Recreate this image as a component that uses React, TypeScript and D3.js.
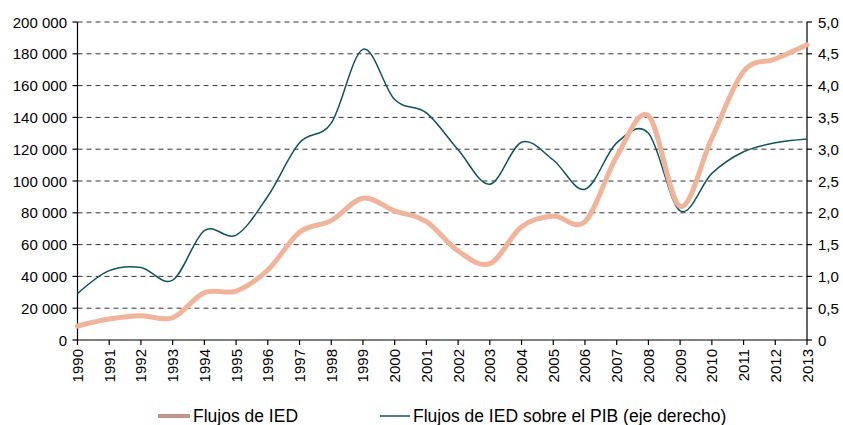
import React from "react";
import * as d3 from "d3";

const years = [
  "1990","1991","1992","1993","1994","1995","1996","1997","1998","1999","2000","2001",
  "2002","2003","2004","2005","2006","2007","2008","2009","2010","2011","2012","2013",
];
const flujosIED = [
  8800, 13200, 15300, 14000, 29800, 30800, 44000, 67800, 75100, 89200, 81200, 74500,
  56000, 48000, 71300, 78000, 74500, 115400, 141000, 84000, 127000, 169000, 176700, 185700,
];
const flujosPIB = [
  0.73, 1.09, 1.14, 0.94, 1.72, 1.65, 2.26, 3.1, 3.41, 4.57, 3.78, 3.57,
  2.99, 2.45, 3.11, 2.83, 2.37, 3.1, 3.25, 2.03, 2.62, 2.96, 3.1, 3.16,
];
const leftTicks = [0, 20000, 40000, 60000, 80000, 100000, 120000, 140000, 160000, 180000, 200000];
const rightTicks = [0, 0.5, 1, 1.5, 2, 2.5, 3, 3.5, 4, 4.5, 5];
const legendLabels = ["Flujos de IED", "Flujos de IED sobre el PIB (eje derecho)"];

const W = 843;
const H = 425;
const X0 = 77.5;
const X1 = 807;
const Y0 = 340;
const Y1 = 22;
const FONT = "'Liberation Sans', Arial, sans-serif";
const TICK_FS = 15;

const fmtLeft = (v: number) => {
  if (v === 0) return "0";
  const s = String(v);
  return s.slice(0, s.length - 3) + " " + s.slice(s.length - 3);
};
const fmtRight = (v: number) => (v === 0 ? "0" : v.toFixed(1).replace(".", ","));

export default function App() {
  const x = d3.scalePoint<string>().domain(years).range([X0, X1]);
  const yL = d3.scaleLinear().domain([0, 200000]).range([Y0, Y1]);
  const yR = d3.scaleLinear().domain([0, 5]).range([Y0, Y1]);

  const lineL = d3
    .line<number>()
    .x((_, i) => x(years[i]) as number)
    .y((d) => yL(d))
    .curve(d3.curveCardinal.tension(0));
  const lineR = d3
    .line<number>()
    .x((_, i) => x(years[i]) as number)
    .y((d) => yR(d))
    .curve(d3.curveCardinal.tension(0));

  return (
    <svg
      width={W}
      height={H}
      style={{ position: "absolute", left: 0, top: 0, background: "#fff" }}
      fontFamily={FONT}
    >
      {/* gridlines */}
      {leftTicks.slice(1).map((t) => (
        <line
          key={"g" + t}
          x1={X0}
          x2={X1}
          y1={yL(t)}
          y2={yL(t)}
          stroke="#333"
          strokeWidth={1}
          strokeDasharray="5,4"
        />
      ))}
      {/* left axis */}
      <line x1={X0} x2={X0} y1={Y1} y2={Y0} stroke="#000" strokeWidth={1.2} />
      {leftTicks.map((t) => (
        <g key={"l" + t}>
          <line x1={X0 - 5} x2={X0} y1={yL(t)} y2={yL(t)} stroke="#000" strokeWidth={1.2} />
          <text x={X0 - 10.5} y={yL(t)} textAnchor="end" dominantBaseline="central" fontSize={TICK_FS} fill="#000">
            {fmtLeft(t)}
          </text>
        </g>
      ))}
      {/* right axis */}
      <line x1={X1} x2={X1} y1={Y1} y2={Y0} stroke="#000" strokeWidth={1.2} />
      {rightTicks.map((t) => (
        <g key={"r" + t}>
          <line x1={X1} x2={X1 + 5} y1={yR(t)} y2={yR(t)} stroke="#000" strokeWidth={1.2} />
          <text x={X1 + 11} y={yR(t)} textAnchor="start" dominantBaseline="central" fontSize={TICK_FS} fill="#000">
            {fmtRight(t)}
          </text>
        </g>
      ))}
      {/* bottom axis */}
      <line x1={X0} x2={X1} y1={Y0} y2={Y0} stroke="#000" strokeWidth={1.2} />
      {years.map((yr) => (
        <g key={"x" + yr}>
          <line x1={x(yr)} x2={x(yr)} y1={Y0} y2={Y0 + 5} stroke="#000" strokeWidth={1.2} />
          <text
            transform={`translate(${x(yr)},${Y0 + 9}) rotate(-90)`}
            textAnchor="end"
            dominantBaseline="central"
            fontSize={TICK_FS}
            fill="#000"
          >
            {yr}
          </text>
        </g>
      ))}
      {/* lines */}
      <path d={lineR(flujosPIB) || ""} fill="none" stroke="#0d555c" strokeWidth={1.5} />
      <path d={lineL(flujosIED) || ""} fill="none" stroke="#f0b49b" strokeWidth={5} strokeLinecap="round" />
      {/* legend */}
      <line x1={158} x2={190} y1={416} y2={416} stroke="#c4968a" strokeWidth={4} />
      <text x={193} y={421.5} fontSize={17.5} fill="#000">
        {legendLabels[0]}
      </text>
      <line x1={380} x2={410} y1={416} y2={416} stroke="#0d555c" strokeWidth={1.5} />
      <text x={413} y={421.5} fontSize={17.5} fill="#000">
        {legendLabels[1]}
      </text>
    </svg>
  );
}
